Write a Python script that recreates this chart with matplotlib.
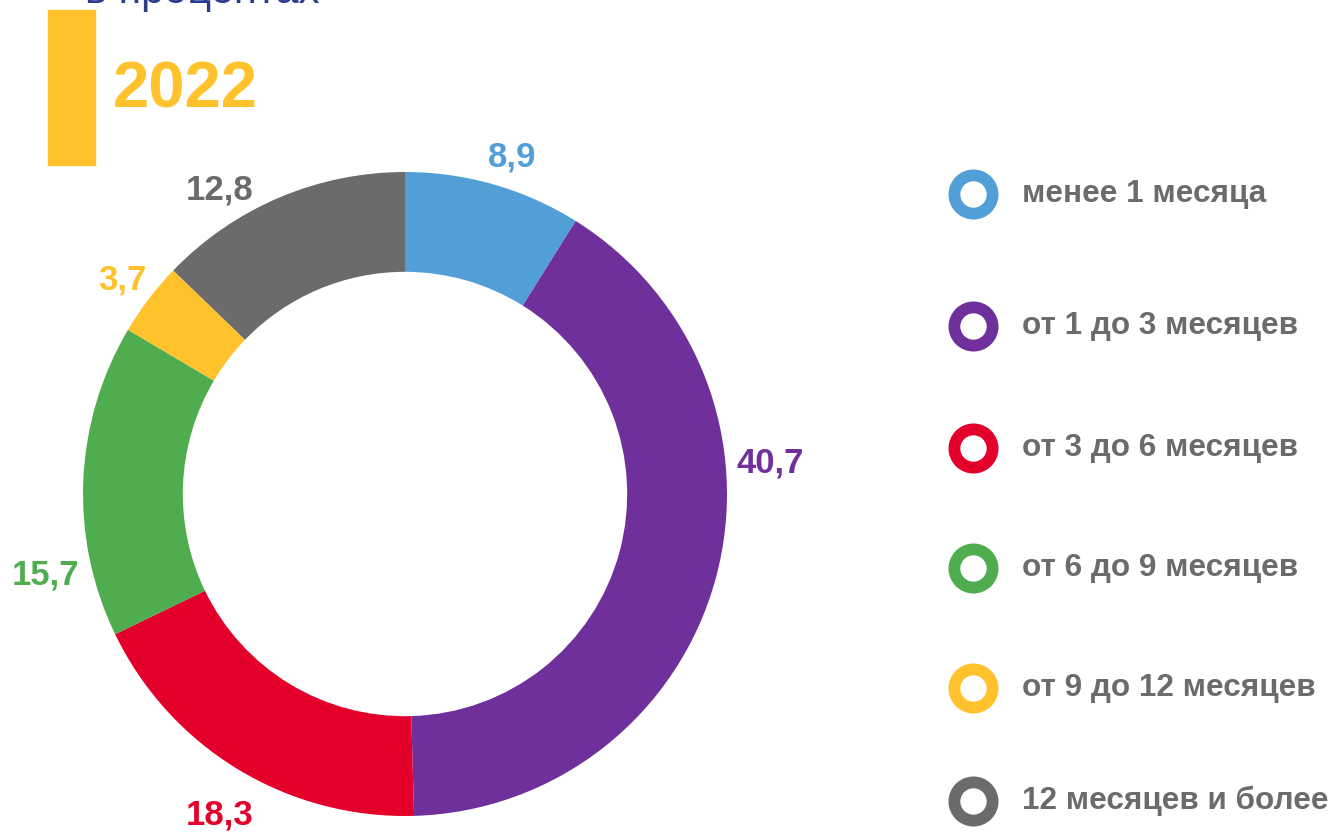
import matplotlib
matplotlib.use("Agg")
import matplotlib.pyplot as plt
from matplotlib.patches import Rectangle
from matplotlib.lines import Line2D

plt.rcParams['font.family'] = ['Liberation Sans', 'DejaVu Sans']

categories = ["менее 1 месяца", "от 1 до 3 месяцев", "от 3 до 6 месяцев",
              "от 6 до 9 месяцев", "от 9 до 12 месяцев", "12 месяцев и более"]
values = [8.9, 40.7, 18.3, 15.7, 3.7, 12.8]
value_labels = ["8,9", "40,7", "18,3", "15,7", "3,7", "12,8"]
colors = ["#529FD7", "#70309C", "#E3002B", "#50AD4F", "#FFC22D", "#6B6B6B"]
year = "2022"
subtitle = "в процентах"

# label positions (layout, in donut radius units)
label_pos = [(0.332, 1.047), (1.134, 0.096), (-0.575, -0.997),
             (-1.118, -0.252), (-0.879, 0.665), (-0.575, 0.944)]

W, H = 1337, 836
fig = plt.figure(figsize=(W / 100, H / 100), dpi=100)

# header
fig.text(85 / W, 1 - 3 / H, subtitle, color="#2B3C8E", fontsize=30,
         ha="left", va="baseline")
fig.patches.append(Rectangle((48 / W, 1 - 165 / H), 47 / W, 155 / H,
                             transform=fig.transFigure, color="#FFC22D"))
fig.text(113 / W, 1 - 107 / H, year, color="#FFC22D", fontsize=47,
         fontweight="bold", ha="left", va="baseline")

# donut
cx, cy, R = 405, 494, 322
ax = fig.add_axes([(cx - R * 1.5) / W, (H - cy - R * 1.5) / H, 3 * R / W, 3 * R / H])
ax.pie(values, colors=colors, startangle=90, counterclock=False, radius=1.0,
       wedgeprops=dict(width=0.31, edgecolor="none"))
ax.set_xlim(-1.5, 1.5)
ax.set_ylim(-1.5, 1.5)
ax.set_aspect("equal")
ax.axis("off")
for (x, y), t, c in zip(label_pos, value_labels, colors):
    ax.text(x, y, t, color=c, fontsize=25, fontweight="bold", ha="center", va="center")

# legend
leg_y = [194, 326, 448, 568, 688, 801]
lx = 973
for yy, cat, c in zip(leg_y, categories, colors):
    fig.lines.append(Line2D([lx / W], [1 - yy / H], transform=fig.transFigure,
                            marker="o", markersize=27.5, markerfacecolor="white",
                            markeredgecolor=c, markeredgewidth=8.5,
                            linestyle="none"))
    fig.text(1022 / W, 1 - yy / H, cat, color="#6B6B6B", fontsize=22.7,
             fontweight="bold", ha="left", va="center")

fig.savefig("out.png", dpi=100)
